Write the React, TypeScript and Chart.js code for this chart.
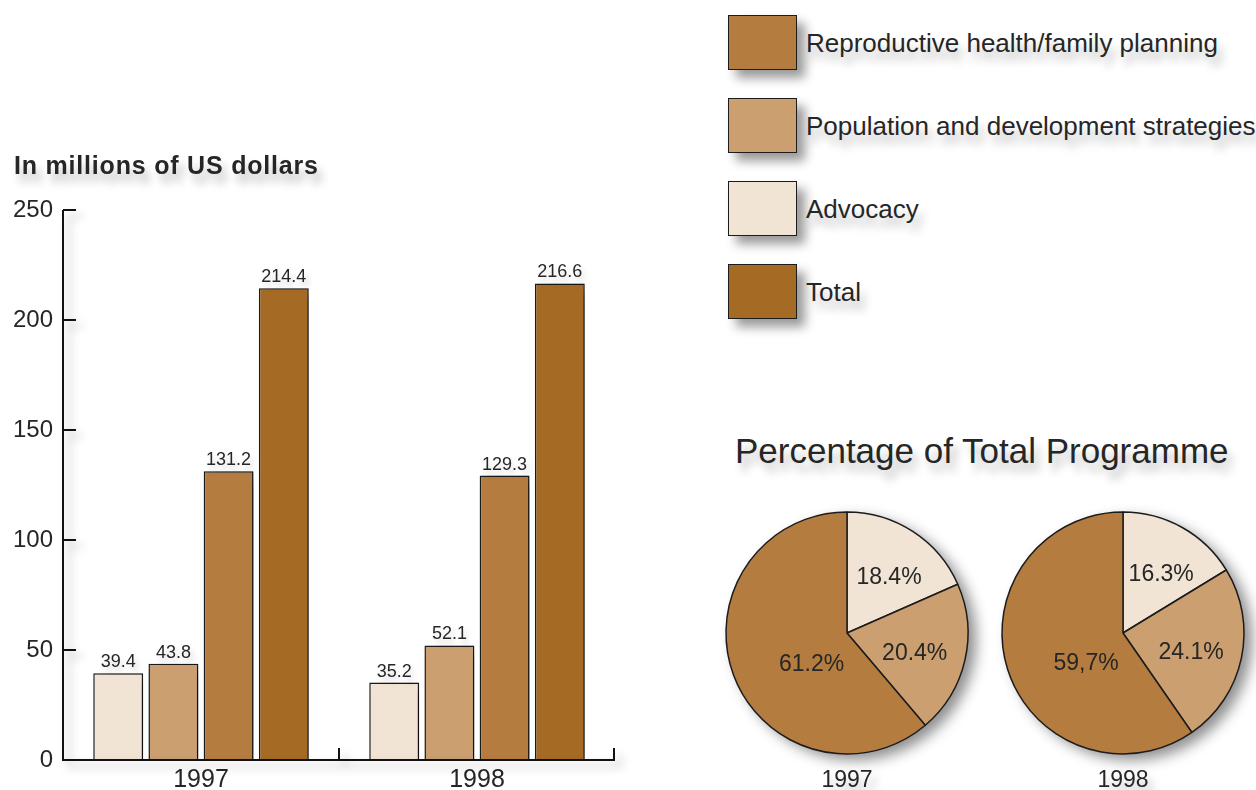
import React, { useEffect, useRef } from 'react';
import { Chart, registerables } from 'chart.js';
Chart.register(...registerables);

// ---------- data ----------
const years = ['1997', '1998'];
const advocacy = [39.4, 35.2];
const population = [43.8, 52.1];
const reproductive = [131.2, 129.3];
const total = [214.4, 216.6];
const yTickStep = 50;
const yMax = 250;

const pieSeries = ['Advocacy', 'Population and development strategies', 'Reproductive health/family planning'];
const pie1997 = [18.4, 20.4, 61.2];
const pie1998 = [16.3, 24.1, 59.7];
const pie1997Text = ['18.4%', '20.4%', '61.2%'];
const pie1998Text = ['16.3%', '24.1%', '59,7%'];

const legendItems = ['Reproductive health/family planning', 'Population and development strategies', 'Advocacy', 'Total'];

// ---------- style ----------
const FONT = "'Liberation Sans', Arial, Helvetica, sans-serif";
const TEXT = '#262626';
const COLORS: Record<string, string> = {
  'Advocacy': '#F1E4D4',
  'Population and development strategies': '#CB9F70',
  'Reproductive health/family planning': '#B57C40',
  'Total': '#A56B25',
};
const BORDER = '#1c1c1c';
const pieLabelRadius = [0.575, 0.585, 0.395];
const pieLabelShiftDeg = [4, 4, -22];

const barDecor = {
  id: 'barDecor',
  beforeDatasetsDraw(chart: any) {
    const ctx = chart.ctx;
    ctx.save();
    ctx.shadowColor = 'rgba(0,0,0,0.45)';
    ctx.shadowBlur = 14;
    ctx.shadowOffsetX = 8;
    ctx.shadowOffsetY = 4;
  },
  afterDatasetsDraw(chart: any) {
    const ctx = chart.ctx;
    ctx.restore();
    const { left, right, bottom } = chart.chartArea;
    const xs = chart.scales.x;
    const ys = chart.scales.y;
    ctx.save();
    ctx.strokeStyle = '#111';
    ctx.lineWidth = 2;
    ctx.shadowColor = 'rgba(0,0,0,0.3)';
    ctx.shadowBlur = 10;
    ctx.shadowOffsetX = 6;
    ctx.shadowOffsetY = 6;
    ctx.beginPath();
    ctx.moveTo(left, ys.getPixelForValue(yMax));
    ctx.lineTo(left, bottom);
    ctx.lineTo(right, bottom);
    ys.ticks.forEach((t: any) => {
      const py = ys.getPixelForValue(t.value);
      ctx.moveTo(left, py);
      ctx.lineTo(left + 13, py);
    });
    const p0 = xs.getPixelForValue(0);
    const p1 = xs.getPixelForValue(1);
    [(p0 + p1) / 2, right - 1].forEach((px) => {
      ctx.moveTo(px, bottom);
      ctx.lineTo(px, bottom - 12);
    });
    ctx.stroke();
    ctx.restore();

    ctx.save();
    ctx.fillStyle = TEXT;
    ctx.font = `18px ${FONT}`;
    ctx.textAlign = 'center';
    ctx.textBaseline = 'bottom';
    ctx.shadowColor = 'rgba(0,0,0,0.18)';
    ctx.shadowBlur = 6;
    ctx.shadowOffsetX = 3;
    ctx.shadowOffsetY = 5;
    chart.data.datasets.forEach((ds: any, i: number) => {
      const meta = chart.getDatasetMeta(i);
      meta.data.forEach((el: any, j: number) => {
        ctx.fillText(Number(ds.data[j]).toFixed(1), el.x, el.y - 2);
      });
    });
    ctx.restore();
  },
};

function BarChart() {
  const ref = useRef<HTMLCanvasElement>(null);
  useEffect(() => {
    const mk = (label: string, data: number[]) => ({
      label,
      data,
      backgroundColor: COLORS[label],
      borderColor: BORDER,
      borderWidth: 1.5,
      categoryPercentage: 0.8,
      barPercentage: 0.904,
      clip: false as any,
    });
    const chart = new Chart(ref.current!, {
      type: 'bar',
      data: {
        labels: years,
        datasets: [
          mk('Advocacy', advocacy),
          mk('Population and development strategies', population),
          mk('Reproductive health/family planning', reproductive),
          mk('Total', total),
        ],
      },
      options: {
        animation: false,
        responsive: false,
        events: [],
        layout: { padding: { top: 210, right: 25, left: 0, bottom: 0 } },
        plugins: { legend: { display: false }, tooltip: { enabled: false } },
        scales: {
          x: {
            grid: { display: false, drawTicks: false },
            border: { display: false },
            ticks: { font: { family: FONT, size: 25 }, color: TEXT, padding: 5 },
            afterFit: (s: any) => { s.height = 30; },
          },
          y: {
            min: 0,
            max: yMax,
            grid: { display: false, drawTicks: false },
            border: { display: false },
            ticks: { stepSize: yTickStep, font: { family: FONT, size: 24 }, color: TEXT, padding: 10 },
            afterFit: (s: any) => { s.width = 63; },
          },
        },
      },
      plugins: [barDecor],
    });
    return () => chart.destroy();
  }, []);
  return <canvas ref={ref} width={640} height={790} style={{ position: 'absolute', left: 0, top: 0 }} />;
}

function makePieDecor(texts: string[]) {
  return {
    id: 'pieDecor',
    beforeDatasetsDraw(chart: any) {
      const el = chart.getDatasetMeta(0).data[0];
      if (!el) return;
      const { x, y, outerRadius } = el.getProps(['x', 'y', 'outerRadius'], true);
      const ctx = chart.ctx;
      ctx.save();
      ctx.shadowColor = 'rgba(0,0,0,0.45)';
      ctx.shadowBlur = 14;
      ctx.shadowOffsetX = 8;
      ctx.shadowOffsetY = 6;
      ctx.fillStyle = '#ffffff';
      ctx.beginPath();
      ctx.arc(x, y, outerRadius, 0, Math.PI * 2);
      ctx.fill();
      ctx.restore();
    },
    afterDatasetsDraw(chart: any) {
      const ctx = chart.ctx;
      ctx.save();
      ctx.fillStyle = TEXT;
      ctx.font = `23px ${FONT}`;
      ctx.textAlign = 'center';
      ctx.textBaseline = 'middle';
      chart.getDatasetMeta(0).data.forEach((el: any, i: number) => {
        const { x, y, startAngle, endAngle, outerRadius } = el.getProps(['x', 'y', 'startAngle', 'endAngle', 'outerRadius'], true);
        const mid = (startAngle + endAngle) / 2 + (pieLabelShiftDeg[i] * Math.PI) / 180;
        const r = outerRadius * pieLabelRadius[i];
        ctx.fillText(texts[i], x + Math.cos(mid) * r, y + Math.sin(mid) * r);
      });
      ctx.restore();
    },
  };
}

function PieChart({ values, texts, left, top }: { values: number[]; texts: string[]; left: number; top: number }) {
  const ref = useRef<HTMLCanvasElement>(null);
  useEffect(() => {
    const chart = new Chart(ref.current!, {
      type: 'pie',
      data: {
        labels: pieSeries,
        datasets: [
          {
            data: values,
            backgroundColor: pieSeries.map((s) => COLORS[s]),
            borderColor: BORDER,
            borderWidth: 1.5,
            hoverOffset: 0,
          },
        ],
      },
      options: {
        animation: false,
        responsive: false,
        events: [],
        radius: 121,
        plugins: { legend: { display: false }, tooltip: { enabled: false } },
      } as any,
      plugins: [makePieDecor(texts)],
    });
    return () => chart.destroy();
  }, []);
  return <canvas ref={ref} width={300} height={300} style={{ position: 'absolute', left, top }} />;
}

const TSHADOW = '5px 9px 9px rgba(0,0,0,0.25)';

function Label({ x, y, size, children, bold, align = 'left', spacing = 0 }: any) {
  return (
    <div
      style={{
        position: 'absolute',
        left: x,
        top: y,
        transform: align === 'center' ? 'translate(-50%, -50%)' : 'translate(0, -50%)',
        fontFamily: FONT,
        fontSize: size,
        fontWeight: bold ? 'bold' : 'normal',
        letterSpacing: spacing,
        color: TEXT,
        lineHeight: 1,
        whiteSpace: 'nowrap',
        textShadow: TSHADOW,
      }}
    >
      {children}
    </div>
  );
}

export default function App() {
  return (
    <div
      style={{
        position: 'fixed',
        left: 0,
        top: 0,
        width: 1256,
        height: 790,
        overflow: 'hidden',
        background: '#ffffff',
      }}
    >
      <BarChart />
      <Label x={14} y={165} size={25} bold spacing={0.8}>
        In millions of US dollars
      </Label>
      {legendItems.map((name, i) => (
        <React.Fragment key={name}>
          <div
            style={{
              position: 'absolute',
              left: 728,
              top: 15 + i * 83,
              width: 69,
              height: 55,
              boxSizing: 'border-box',
              border: `1.5px solid ${BORDER}`,
              background: COLORS[name],
              boxShadow: '8px 8px 10px rgba(0,0,0,0.4)',
            }}
          />
          <Label x={806} y={43 + i * 83} size={26}>
            {name}
          </Label>
        </React.Fragment>
      ))}
      <Label x={735} y={450} size={35}>
        Percentage of Total Programme
      </Label>
      <PieChart values={pie1997} texts={pie1997Text} left={697} top={483} />
      <PieChart values={pie1998} texts={pie1998Text} left={973} top={483} />
      <Label x={847} y={779} size={23} align="center">
        1997
      </Label>
      <Label x={1123} y={779} size={23} align="center">
        1998
      </Label>
    </div>
  );
}
